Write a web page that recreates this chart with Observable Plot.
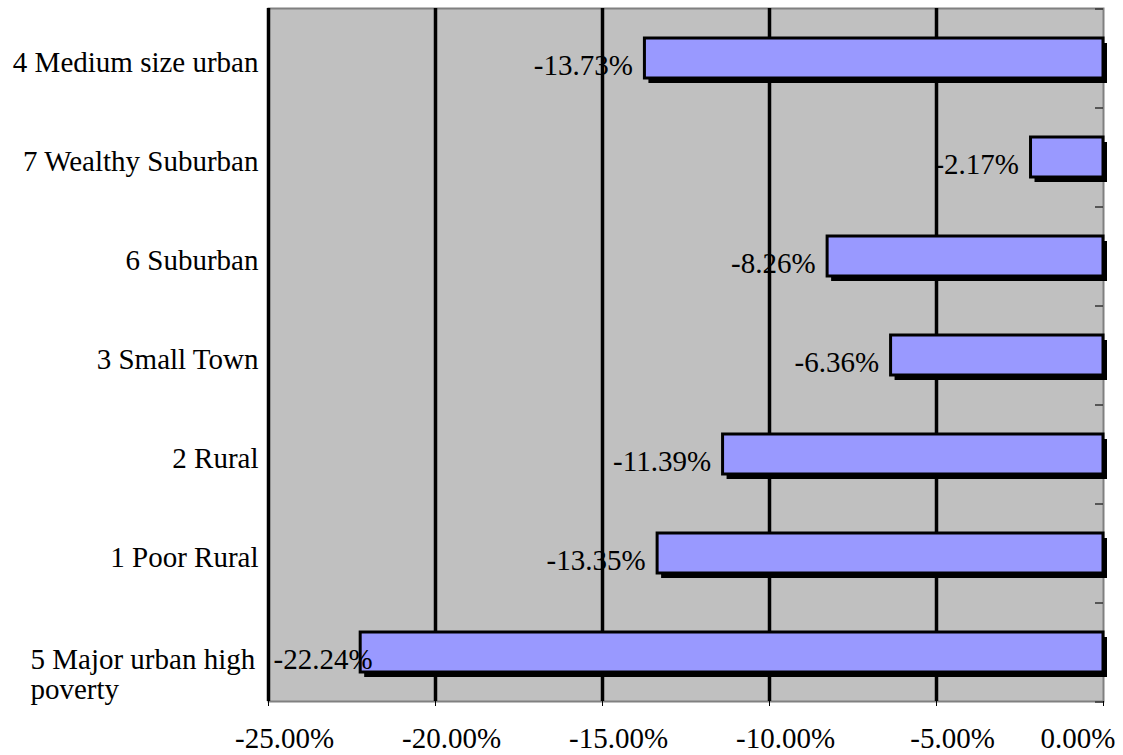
<!DOCTYPE html>
<html>
<head>
<meta charset="utf-8">
<script src="https://cdn.jsdelivr.net/npm/d3@7"></script>
<script src="https://cdn.jsdelivr.net/npm/@observablehq/plot@0.6"></script>
<style>
  body { margin: 0; background: #fff; }
</style>
</head>
<body>
<div id="chart"></div>
<script>
// Change by community type, in percent
const categories = [
  "4 Medium size urban",
  "7 Wealthy Suburban",
  "6 Suburban",
  "3 Small Town",
  "2 Rural",
  "1 Poor Rural",
  "5 Major urban high poverty"
];
const changes = [-13.73, -2.17, -8.26, -6.36, -11.39, -13.35, -22.24];
const xTicks = [-25, -20, -15, -10, -5, 0];

const rows = categories.map((category, i) => ({category, value: changes[i]}));
const fmt = v => v.toFixed(2) + "%";

const W = 1123, H = 755;
const M = {top: 8, right: 20, bottom: 54, left: 268};
const step = (H - M.top - M.bottom) / categories.length;
const pxToX = px => px * (xTicks[xTicks.length - 1] - xTicks[0]) / (W - M.left - M.right);

const wrapped = categories.filter(c => c.length > 20);
const single = categories.filter(c => c.length <= 20);
const xMin = xTicks[0];

const chart = Plot.plot({
  width: W,
  height: H,
  marginTop: M.top,
  marginRight: M.right,
  marginBottom: M.bottom,
  marginLeft: M.left,
  style: {
    fontFamily: "'Liberation Serif', 'Times New Roman', serif",
    fontSize: "29px",
    color: "#000",
    background: "#fff",
    overflow: "visible"
  },
  x: {domain: [xTicks[0], xTicks[xTicks.length - 1]], label: null},
  y: {domain: categories, paddingInner: 0.6, paddingOuter: 0.3, axis: null, label: null},
  marks: [
    // plot area
    Plot.frame({fill: "#c0c0c0", stroke: null}),
    Plot.frame({stroke: "#808080", strokeWidth: 2}),
    // vertical gridlines (the one at -25% doubles as the left axis line)
    Plot.ruleX(xTicks.filter(t => t < 0), {stroke: "#000", strokeWidth: 3.5}),
    // category ticks on the zero line, between bands
    Plot.ruleY(categories, {y: d => d, x1: -pxToX(8), x2: 0, dy: -step / 2, stroke: "#333", strokeWidth: 1.5}),
    Plot.ruleY(categories.slice(-1), {y: d => d, x1: -pxToX(8), x2: 0, dy: step / 2, stroke: "#333", strokeWidth: 1.5}),
    // bar shadows, then bars
    Plot.barX(rows, {x1: "value", x2: 0, y: "category", fill: "#000", dx: 4, dy: 5}),
    Plot.barX(rows, {x1: "value", x2: 0, y: "category", fill: "#9999ff", stroke: "#000", strokeWidth: 3}),
    // value labels: left of the bar end, or inside the frame when the bar reaches the edge
    Plot.text(rows.filter(d => d.value > -20), {
      x: "value", y: "category", text: d => fmt(d.value),
      textAnchor: "end", dx: -12, dy: 7, fill: "#000"
    }),
    Plot.text(rows.filter(d => d.value <= -20), {
      x: () => xMin, y: "category", text: d => fmt(d.value),
      textAnchor: "start", dx: 5, dy: 7, fill: "#000"
    }),
    // category labels
    Plot.text(single, {
      y: d => d, frameAnchor: "left", textAnchor: "end", dx: -10, dy: 4, fill: "#000"
    }),
    Plot.text(wrapped, {
      y: d => d, frameAnchor: "left", textAnchor: "start", dx: -238, dy: 22,
      lineWidth: 10, lineHeight: 1.02, fill: "#000"
    }),
    // x axis: small ticks below the frame, then labels
    Plot.axisX(xTicks, {tickSize: 5, tickFormat: () => "", stroke: "#000", label: null}),
    Plot.axisX(xTicks.filter(t => t < 0), {tickSize: 0, tickPadding: 26, tickFormat: fmt, dx: 16, fill: "#000", label: null}),
    Plot.axisX(xTicks.filter(t => t === 0), {tickSize: 0, tickPadding: 26, tickFormat: fmt, textAnchor: "end", dx: 12, fill: "#000", label: null})
  ]
});

document.getElementById("chart").appendChild(chart);
</script>
</body>
</html>
